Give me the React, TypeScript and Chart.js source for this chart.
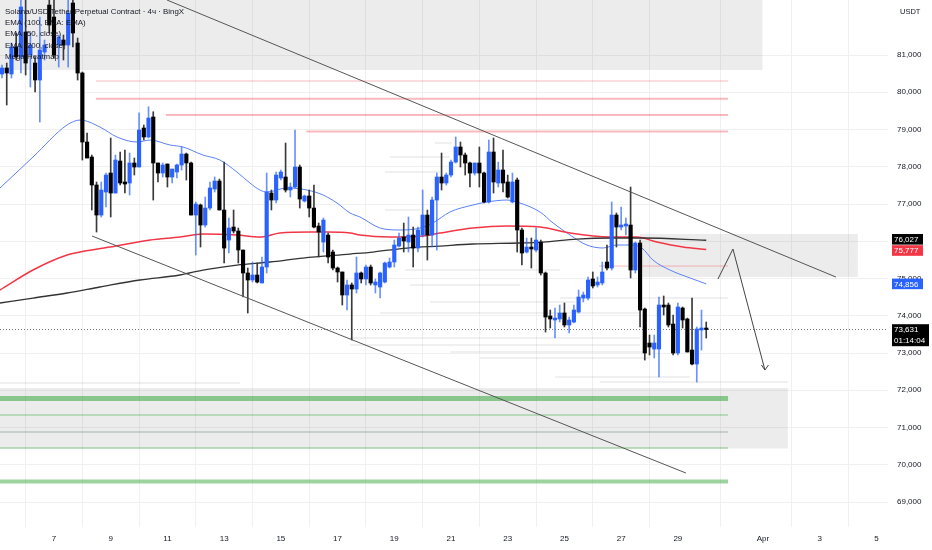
import React, { useEffect, useRef } from "react";
import { Chart, registerables } from "chart.js";
Chart.register(...registerables);

// ---- time axis (days of March; 32 = Apr 1) ----
const X_MIN = 5.096;
const X_MAX = 36.41;
const xTickDays = [7, 9, 11, 13, 15, 17, 19, 21, 23, 25, 27, 29, 32, 34, 36];
const xTickLabels = ["7", "9", "11", "13", "15", "17", "19", "21", "23", "25", "27", "29", "Apr", "3", "5"];

// ---- price axis ----
const Y_MIN = 68329;
const Y_MAX = 82477;
const yTicks = [69000, 70000, 71000, 72000, 73000, 74000, 75000, 76000, 77000, 78000, 79000, 80000, 81000];

// ---- 4h candles (first = Mar 5 04:00) ----
const FIRST_CANDLE_DAY = 5 + 4 / 24;
const CANDLE_STEP_DAY = 4 / 24;
const opens = [80490,80651,80490,81215,80946,81617,81000,80785,80329,81081,
82342,82020,81268,81403,81268,82396,81322,80517,78664,78262,
77510,76704,77322,77832,77295,78154,77591,77564,78101,77993,
79040,78799,79336,78101,77832,78074,77725,77859,78047,78342,
78101,76704,76973,76436,76892,77403,77617,76839,76033,76382,
76275,75765,75148,74960,75094,74880,75309,77295,77107,77698,
77725,77376,77456,77993,77080,77215,76892,76409,75979,76167,
75711,75282,75175,74557,74826,74718,75148,74987,75309,74826,
74772,74906,75309,75443,75872,76114,75979,76167,75818,76167,
76704,76167,77107,77725,77564,77778,78127,78530,78315,78101,
77832,78101,77832,77054,78396,77564,77913,77591,77054,77644,
76302,75711,75845,75765,75979,75148,73993,73886,73913,74074,
73752,73832,74101,74476,74476,74987,74826,74880,75443,75282,
76704,76382,76409,76436,75228,75953,74181,73268,73107,73107,
74288,74288,73778,73000,74208,73913,73080,72704,73617,73671];
const highs = [80731,80785,81322,81591,82550,82600,81591,80946,82020,81403,
82600,82477,81537,81537,82600,82600,81456,80544,78906,78315,
77591,77591,77832,78772,78315,78396,78450,78369,78235,79449,
79121,79612,79476,78101,78101,78074,77939,78074,78530,78369,
78127,77054,77000,77188,77591,77725,77671,78127,76624,76839,
76355,75765,75282,75443,75416,75577,77832,77376,77859,77913,
78637,77564,78986,78047,77242,77376,77510,76490,76624,76221,
75765,75309,75175,74960,74880,75577,75175,75362,75362,74987,
75175,75443,75550,76033,76221,76490,76651,76382,76382,77376,
76839,77188,77832,78369,77832,78181,78799,78664,78369,78127,
78101,78530,77859,78718,78772,78127,78450,77778,77832,77698,
76355,76087,76087,76355,76033,75175,74154,74208,74288,74342,
73966,74288,74691,74638,75040,75175,75040,75443,75899,77054,
76758,76919,76624,77456,75979,76033,74208,73483,73483,74503,
74530,74342,74020,74342,74235,73939,74476,73698,74154,73832];
const lows = [80383,79658,80383,80866,80517,80463,80141,80007,79201,80866,
81591,80919,80678,80866,80678,81215,80329,78181,78235,76839,
76248,76651,76919,76651,77295,77510,77295,77242,77778,77993,
78718,78772,77107,77591,77725,77456,77564,77698,77913,77644,
76704,75630,75845,76382,76839,77322,76839,75416,75684,76221,
75416,74503,74074,74906,74880,74880,75148,76839,77027,77644,
77322,77188,77430,76892,77054,76651,76355,75577,75711,75416,
75228,74906,74288,74154,73349,74611,74880,74826,74826,74611,
74476,74880,75282,75309,75845,75711,75711,75309,75711,76114,
75496,75845,75765,77376,77510,77725,78101,77993,77778,77456,
77778,77456,77027,77027,77295,77456,77322,77161,77027,75711,
75362,75684,75282,75711,75094,73563,73671,73402,73832,73698,
73537,73805,74074,74369,74423,74745,74772,74826,75228,75228,
75845,76302,76167,75014,75148,73698,72811,72946,72865,72355,
74020,73698,72946,72946,73671,73027,72677,72221,73080,73402];
const closes = [80651,80517,81215,80946,82289,80785,81268,80329,81134,81268,
81805,81000,81483,81268,82127,81591,80517,78664,78235,77510,
76704,77376,77778,77295,78181,77564,77537,78101,77993,78986,
78799,79308,78101,77832,78047,77725,77939,78047,78342,78101,
76704,77000,76436,76892,77430,77617,76839,75818,76355,76275,
75765,75148,74960,75094,74906,75309,77322,77107,77778,77859,
77376,77456,77993,77134,77215,76892,76382,76248,76570,75577,
75282,75175,74557,74826,74718,75148,74987,75309,74880,74906,
75148,75416,75443,75899,76087,76006,76167,75818,76302,76704,
76167,77107,77725,77564,77778,78127,78530,78315,78101,77832,
78101,77832,77054,78396,77591,77913,77564,77188,77591,76302,
75684,75845,75792,76033,75148,73966,73913,73939,74074,73752,
73886,74154,74503,74557,74960,74799,74906,75175,75282,76704,
76382,76436,76463,75228,75953,74154,73000,73161,73268,74288,
74235,73752,73000,74235,73886,73027,72704,73644,73671,73631];

// ---- EMAs ----
const ema50Days = [5.096,6.26,7.46,7.92,8.62,9.22,9.93,10.39,11.09,11.55,12.25,12.85,13.45,13.91,14.26,14.51,15.22,15.92,16.49,16.98,17.44,17.79,18.5,19.2,19.91,20.36,20.96,21.77,22.27,22.97,23.43,24.14,24.6,25.2,25.79,26.36,26.85,27.31,27.73,28.12,28.72,29.43,30.0];
const ema50 = [77430,78262,79121,79255,79067,78799,78664,78718,78584,78530,78315,78181,77859,77564,77376,77322,77430,77376,77242,77027,76758,76651,76355,76302,76355,76490,76785,76973,77054,77107,77027,76785,76490,76167,75899,75819,75899,75899,75819,75496,75228,75014,74856];
const ema100Days = [5.096,6.26,7.46,7.92,8.97,10.39,11.44,12.25,13.45,14.26,14.97,16.03,16.63,17.44,17.79,18.85,20.01,20.61,21.77,22.97,24.14,25.2,26.61,27.56,28.26,29.18,30.0];
const ema100 = [74691,75228,75630,75711,75845,76033,76114,76194,76167,76114,76221,76248,76248,76221,76167,76114,76140,76221,76355,76409,76382,76221,76114,76114,75979,75845,75777];
const ema200Days = [5.096,6.26,7.46,8.62,10.03,11.44,12.25,13.45,14.62,15.78,17.44,18.25,19.45,20.61,21.77,23.43,24.24,25.44,26.61,27.77,30.0];
const ema200 = [74342,74476,74611,74772,74960,75094,75228,75362,75443,75550,75657,75711,75818,75872,75926,75953,75979,76060,76087,76087,76027];

// ---- drawings ----
const upperTrendDays = [10.985, 34.574];
const upperTrendPrices = [82477, 75040];
const lowerTrendDays = [8.34, 29.285];
const lowerTrendPrices = [76141, 69778];
const arrowDays = [30.413, 30.942, 32.07];
const arrowPrices = [74986, 75791, 72543];
const arrowHeadDays = [31.947, 32.07, 32.194];
const arrowHeadPrices = [72678, 72543, 72678];

// zones: [startDay, endDay, topPrice, bottomPrice]
const zoneStart = [X_MIN, 27.66, X_MIN];
const zoneEnd = [31.99, 35.35, 32.88];
const zoneTop = [83500, 76194, 72060];
const zoneBottom = [80597, 75040, 70437];

// resistance (pink) levels
const pinkStart = [8.48, 8.48, 10.95, 15.9, 26.22];
const pinkEnd = [30.77, 30.77, 30.77, 30.77, 30.77];
const pinkPrice = [80302, 79826, 79389, 78946, 75335];
const pinkWidth = [1, 2, 2, 2, 1];

// support (green) levels
const greenPrice = [71778, 71335, 70879, 70449, 69550];
const greenWidth = [5, 2, 2, 2, 4];
const greenColor = ["rgba(76,175,80,0.62)", "rgba(76,175,80,0.32)", "rgba(110,140,120,0.3)", "rgba(76,175,80,0.35)", "rgba(76,175,80,0.55)"];
const GREEN_END = 30.77;

// heatmap traces
const heatStart = [20.43,18.85,18.67,18.67,19.38,19.55,24.84,20.26,18.5,17.44,17.44,20.96,22.02,24.67,26.25,5.096];
const heatEnd = [21.03,20.96,20.61,19.91,24.84,23.43,30.77,25.37,27.66,27.66,27.66,27.84,28.02,29.43,32.88,13.56];
const heatPrice = [78638,78262,77859,76839,75228,74825,74476,74369,74072,73402,73214,73027,72865,72355,72221,72195];

// ---- right-axis tags ----
const LAST_PRICE = 73631;
const tagPrices = [76027, 75777, 74856, 73631];
const tagColors = ["#000000", "#f23645", "#2962ff", "#000000"];
const COUNTDOWN = "01:14:04";
const legendLines = [
  "Solana/USD Tether Perpetual Contract · 4ч · BingX",
  "EMA (100, EMA: EMA)",
  "EMA (50, close)",
  "EMA (200, close)",
  "Mega Heatmap",
];

const FONT = '"Liberation Sans", Arial, sans-serif';
const UP = "#2962ff";
const DOWN = "#000000";
const GRID = "#f0f0f0";

export default function App() {
  const ref = useRef<HTMLCanvasElement>(null);
  useEffect(() => {
    document.body.style.margin = "0";
    const canvas = ref.current;
    if (!canvas) return;

    const days = opens.map((_, i) => FIRST_CANDLE_DAY + i * CANDLE_STEP_DAY);
    const up = opens.map((o, i) => closes[i] >= o);

    const hline = (d1: number, d2: number, p: number, color: string, width: number, order: number, dash: number[] = []) => ({
      type: "line" as const,
      data: [{ x: d1, y: p }, { x: d2, y: p }],
      borderColor: color,
      borderWidth: width,
      borderDash: dash,
      pointRadius: 0,
      fill: false,
      order,
    });
    const curve = (xs: number[], ys: number[], color: string, width: number, order: number, tension = 0.4) => ({
      type: "line" as const,
      data: xs.map((x, i) => ({ x, y: ys[i] })),
      borderColor: color,
      borderWidth: width,
      pointRadius: 0,
      fill: false,
      tension,
      cubicInterpolationMode: tension > 0 ? ("monotone" as const) : ("default" as const),
      order,
    });

    const datasets: any[] = [];
    zoneStart.forEach((s, i) => {
      datasets.push({
        type: "line",
        data: [{ x: s, y: zoneTop[i] }, { x: zoneEnd[i], y: zoneTop[i] }],
        borderWidth: 0,
        borderColor: "rgba(0,0,0,0)",
        backgroundColor: "rgba(0,0,0,0.075)",
        fill: { value: zoneBottom[i] },
        pointRadius: 0,
        order: 100,
      });
    });
    heatStart.forEach((s, i) => datasets.push(hline(s, heatEnd[i], heatPrice[i], "rgba(0,0,0,0.06)", 2, 95)));
    pinkStart.forEach((s, i) => datasets.push(hline(s, pinkEnd[i], pinkPrice[i], "rgba(242,54,69,0.35)", pinkWidth[i], 90)));
    greenPrice.forEach((p, i) => datasets.push(hline(X_MIN, GREEN_END, p, greenColor[i], greenWidth[i], 90)));
    datasets.push(hline(X_MIN, X_MAX, LAST_PRICE, "#777777", 1, 85, [1, 2]));
    datasets.push(curve(ema200Days, ema200, "#333333", 1.3, 60));
    datasets.push(curve(ema100Days, ema100, "#f23645", 1.5, 60));
    datasets.push(curve(ema50Days, ema50, "#5b82f5", 1, 60));
    // candles
    datasets.push({
      type: "bar",
      data: days.map((d, i) => ({ x: d, y: [lows[i], highs[i]] })),
      backgroundColor: up.map((u) => (u ? "rgba(41,98,255,0.7)" : "#3a3a3a")),
      barThickness: 1,
      grouped: false,
      borderWidth: 0,
      order: 30,
    });
    datasets.push({
      type: "bar",
      data: days.map((d, i) => ({ x: d, y: [opens[i], closes[i]] })),
      backgroundColor: up.map((u) => (u ? UP : DOWN)),
      barThickness: 3.5,
      grouped: false,
      borderWidth: 0,
      minBarLength: 1,
      order: 20,
    });
    datasets.push(curve(upperTrendDays, upperTrendPrices, "#555555", 1, 10, 0));
    datasets.push(curve(lowerTrendDays, lowerTrendPrices, "#555555", 1, 10, 0));
    datasets.push(curve(arrowDays, arrowPrices, "#444444", 1, 5, 0));
    datasets.push(curve(arrowHeadDays, arrowHeadPrices, "#444444", 1, 5, 0));

    const overlay = {
      id: "overlay",
      afterDraw(chart: any) {
        const ctx = chart.ctx as CanvasRenderingContext2D;
        const ys = chart.scales.y;
        ctx.save();
        // legend
        ctx.textBaseline = "middle";
        ctx.textAlign = "left";
        ctx.font = `7.9px ${FONT}`;
        legendLines.forEach((t, i) => {
          ctx.fillStyle = "#131722";
          ctx.fillText(t, 5, 11.5 + i * 11.4);
        });
        // USDT
        ctx.font = `7.5px ${FONT}`;
        ctx.fillStyle = "#131722";
        ctx.fillText("USDT", 900, 12);
        // tags
        const h = 10.6;
        const pos = tagPrices.map((p) => ys.getPixelForValue(p));
        for (let i = 1; i < pos.length; i++) {
          const gap = pos[i] - pos[i - 1];
          if (gap < h) {
            const d = (h - gap) / 2 + 0.3;
            pos[i - 1] -= d;
            pos[i] += d;
          }
        }
        ctx.font = `8px ${FONT}`;
        tagPrices.forEach((p, i) => {
          const last = i === tagPrices.length - 1;
          const y = pos[i];
          const w = last ? 37 : 31;
          const bh = last ? 22 : h;
          ctx.fillStyle = tagColors[i];
          ctx.fillRect(892, y - h / 2, w, bh);
          ctx.fillStyle = "#ffffff";
          ctx.fillText(p.toLocaleString("en-US"), 894, y + 0.5);
          if (last) ctx.fillText(COUNTDOWN, 894, y + 11);
        });
        ctx.restore();
      },
    };

    const chart = new Chart(canvas, {
      type: "bar",
      data: { datasets },
      options: {
        animation: false,
        responsive: false,
        devicePixelRatio: 1,
        events: [],
        layout: { padding: 0 },
        plugins: { legend: { display: false }, tooltip: { enabled: false } },
        scales: {
          x: {
            type: "linear",
            min: X_MIN,
            max: X_MAX,
            offset: false,
            border: { display: false },
            grid: { color: GRID, drawTicks: false },
            ticks: {
              color: "#131722",
              font: { size: 8, family: FONT },
              padding: 7,
              maxRotation: 0,
              autoSkip: false,
              callback: (_v: any, i: number) => xTickLabels[i],
            },
            afterBuildTicks: (s: any) => {
              s.ticks = xTickDays.map((v) => ({ value: v }));
            },
            afterFit: (s: any) => {
              s.height = 23;
              s.paddingLeft = 0;
              s.paddingRight = 0;
            },
          },
          y: {
            type: "linear",
            position: "right",
            min: Y_MIN,
            max: Y_MAX,
            border: { display: false },
            grid: { color: GRID, drawTicks: false },
            ticks: {
              color: "#131722",
              font: { size: 8, family: FONT },
              padding: 9,
              callback: (v: any) => Number(v).toLocaleString("en-US"),
            },
            afterBuildTicks: (s: any) => {
              s.ticks = yTicks.map((v) => ({ value: v }));
            },
            afterFit: (s: any) => {
              s.width = 44;
              s.paddingTop = 0;
              s.paddingBottom = 0;
            },
          },
        },
      },
      plugins: [overlay],
    } as any);
    return () => chart.destroy();
  }, []);
  return (
    <div style={{ width: 932, height: 550, background: "#ffffff" }}>
      <canvas ref={ref} width={932} height={550} style={{ display: "block", width: 932, height: 550 }} />
    </div>
  );
}
